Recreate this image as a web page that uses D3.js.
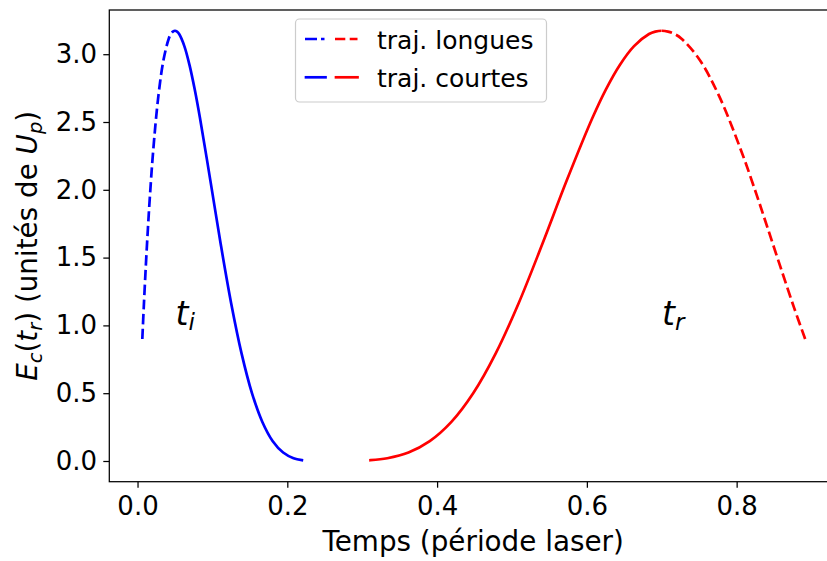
<!DOCTYPE html>
<html>
<head>
<meta charset="utf-8">
<script src="https://cdn.jsdelivr.net/npm/d3@7"></script>
<style>
  html, body { margin: 0; padding: 0; background: #fff; }
  svg { display: block; font-family: "DejaVu Sans", sans-serif; }
</style>
</head>
<body>
<svg id="chart" width="827" height="561"></svg>
<script>
// ---- data ----
// long trajectories (dashed), from earliest ionisation up to the cutoff
const tiLong = [0.00639, 0.00833, 0.01111, 0.01389, 0.01667, 0.02083, 0.02778, 0.03472, 0.04167, 0.04444, 0.04722, 0.05];
const trLong = [0.8915, 0.8764, 0.8578, 0.8414, 0.8266, 0.8064, 0.7768, 0.7505, 0.7264, 0.7173, 0.7084, 0.6998];
const eLong  = [0.8997, 1.1348, 1.4424, 1.7178, 1.9642, 2.2828, 2.6889, 2.9595, 3.1143, 3.1481, 3.1666, 3.1731];
// short trajectories (solid), from the cutoff onwards
const tiShort = [0.05, 0.05278, 0.05556, 0.0625, 0.06944, 0.07639, 0.08333, 0.09722, 0.11111, 0.125, 0.13889, 0.15278, 0.16667, 0.18056, 0.19444, 0.20833, 0.21944];
const trShort = [0.6998, 0.6913, 0.6830, 0.6630, 0.6438, 0.6253, 0.6075, 0.5732, 0.5404, 0.5089, 0.4783, 0.4484, 0.4191, 0.3902, 0.3618, 0.3335, 0.3111];
const eShort  = [3.1731, 3.1662, 3.1487, 3.0599, 2.9194, 2.7393, 2.5311, 2.0697, 1.5985, 1.1636, 0.7933, 0.5008, 0.2879, 0.1460, 0.0622, 0.0201, 0.0059];

const xTicks = [0.0, 0.2, 0.4, 0.6, 0.8];
const yTicks = [0.0, 0.5, 1.0, 1.5, 2.0, 2.5, 3.0];
const legendLabels = ["traj. longues", "traj. courtes"];
const xLabel = "Temps (période laser)";

// ---- layout ----
const L = 109.3, R = 837, T = 10, B = 481.7;
const FS = 25, TFS = 26, LFS = 27.8;
const svg = d3.select("#chart");

const x = d3.scaleLinear().domain([-0.0377, 0.934]).range([L, R]);
const y = d3.scaleLinear().domain([-0.1527, 3.326]).range([B, T]);

const zip = (a, b) => a.map((v, i) => [v, b[i]]);
const line = d3.line().x(d => x(d[0])).y(d => y(d[1])).curve(d3.curveCatmullRom.alpha(0.5));

const LW = 2.7;
const dash = "10.3,4.4";

// full curves (long + short, joined at the cutoff) so the peak is smooth
const blueAll = zip(tiLong, eLong).concat(zip(tiShort, eShort).slice(1));
const redAll = zip(trLong, eLong).concat(zip(trShort, eShort).slice(1));
const xPeakBlue = x(tiLong[tiLong.length - 1]);
const xPeakRed = x(trLong[trLong.length - 1]);

const defs = svg.append("defs");
function clip(id, x0, x1) {
  defs.append("clipPath").attr("id", id).append("rect")
    .attr("x", x0).attr("y", 0).attr("width", x1 - x0).attr("height", 561);
}
clip("blueLong", 0, xPeakBlue);
clip("blueShort", xPeakBlue, 827);
clip("redShort", 0, xPeakRed);
clip("redLong", xPeakRed, 900);

const plot = svg.append("g");
function draw(data, col, clipId, dashed) {
  plot.append("path").attr("d", line(data)).attr("clip-path", `url(#${clipId})`)
    .attr("fill", "none").attr("stroke", col).attr("stroke-width", LW)
    .attr("stroke-dasharray", dashed ? dash : null)
    .attr("stroke-linecap", dashed ? "butt" : "square").attr("stroke-linejoin", "round");
}
draw(blueAll, "#0000ff", "blueLong", true);
draw(blueAll, "#0000ff", "blueShort", false);
draw(redAll, "#ff0000", "redShort", false);
draw(redAll, "#ff0000", "redLong", true);

// ---- axes ----
const xAxis = d3.axisBottom(x).tickValues(xTicks).tickFormat(d3.format(".1f"))
  .tickSize(6).tickSizeOuter(0).tickPadding(9.2);
const gx = svg.append("g").attr("transform", `translate(0,${B})`).call(xAxis);
const yAxis = d3.axisLeft(y).tickValues(yTicks).tickFormat(d3.format(".1f"))
  .tickSize(6).tickSizeOuter(0).tickPadding(6.3);
const gy = svg.append("g").attr("transform", `translate(${L},0)`).call(yAxis);
[gx, gy].forEach(g => {
  g.select(".domain").remove();
  g.selectAll(".tick line").attr("stroke", "#000").attr("stroke-width", 1.25);
  g.selectAll(".tick text").attr("fill", "#000").style("font-size", TFS + "px")
    .style("font-family", "DejaVu Sans");
});

// frame
svg.append("rect").attr("x", L).attr("y", T).attr("width", R - L).attr("height", B - T)
  .attr("fill", "none").attr("stroke", "#000").attr("stroke-width", 1.25);

// x label
svg.append("text").attr("x", (L + R) / 2).attr("y", 551).attr("text-anchor", "middle")
  .style("font-size", LFS + "px").attr("fill", "#000").text(xLabel);

// y label (math)
const yl = svg.append("text")
  .attr("transform", `translate(37,${(T + B) / 2}) rotate(-90)`)
  .attr("text-anchor", "middle").style("font-size", LFS + "px").attr("fill", "#000");
const sub = 4.5;
yl.append("tspan").attr("font-style", "italic").text("E");
yl.append("tspan").attr("font-style", "italic").attr("font-size", LFS * 0.7).attr("dy", sub).text("c");
yl.append("tspan").attr("dy", -sub).text("(");
yl.append("tspan").attr("font-style", "italic").text("t");
yl.append("tspan").attr("font-style", "italic").attr("font-size", LFS * 0.7).attr("dy", sub).text("r");
yl.append("tspan").attr("dy", -sub).text(") (unités de ");
yl.append("tspan").attr("font-style", "italic").text("U");
yl.append("tspan").attr("font-style", "italic").attr("font-size", LFS * 0.7).attr("dy", sub).text("p");
yl.append("tspan").attr("dy", -sub).text(")");

// annotations t_i, t_r
function mathSub(xp, yp, base, s) {
  const t = svg.append("text").attr("x", xp).attr("y", yp).style("font-size", "33px").attr("fill", "#000");
  t.append("tspan").attr("font-style", "italic").text(base);
  t.append("tspan").attr("font-style", "italic").attr("font-size", 33 * 0.7).attr("dy", 5).text(s);
}
mathSub(175.5, 325, "t", "i");
mathSub(662, 325, "t", "r");

// ---- legend ----
const lg = svg.append("g");
lg.append("rect").attr("x", 295.5).attr("y", 19).attr("width", 251).attr("height", 83)
  .attr("rx", 4).attr("fill", "#fff").attr("fill-opacity", 0.8)
  .attr("stroke", "#cccccc").attr("stroke-width", 1.2);
const rows = [39, 77.3];
legendLabels.forEach((lab, i) => {
  const cy = rows[i];
  const dashed = i === 0;
  [["#0000ff", 306, 325.5], ["#ff0000", 336, 357.5]].forEach(([col, x1, x2]) => {
    lg.append("line").attr("x1", dashed ? x1 - 1 : x1).attr("x2", dashed && col === "#0000ff" ? 324.5 : x2)
      .attr("y1", cy).attr("y2", cy)
      .attr("stroke", col).attr("stroke-width", LW)
      .attr("stroke-dasharray", dashed ? (col === "#0000ff" ? "12,4,10,4" : dash) : null)
      .attr("stroke-linecap", dashed ? "butt" : "square");
  });
  lg.append("text").attr("x", 377).attr("y", cy + 10).style("font-size", FS + "px")
    .attr("fill", "#000").text(lab);
});
</script>
</body>
</html>
